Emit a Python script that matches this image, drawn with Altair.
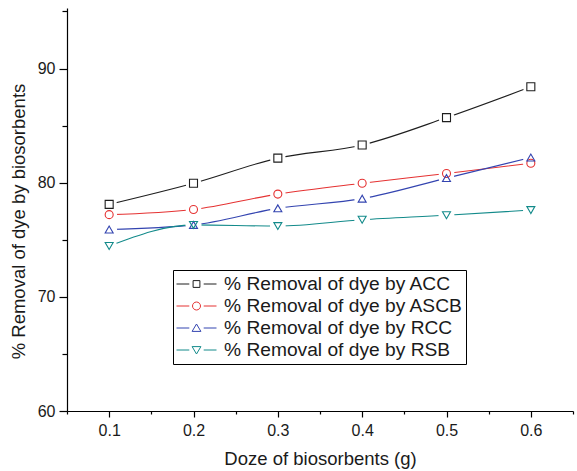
import altair as alt
import pandas as pd

doze = [0.1, 0.2, 0.3, 0.4, 0.5, 0.6]
acc = [78.1, 79.95, 82.15, 83.3, 85.7, 88.4]
ascb = [77.2, 77.65, 79.0, 79.95, 80.8, 81.7]
rcc = [75.9, 76.3, 77.75, 78.6, 80.4, 82.2]
rsb = [74.45, 76.3, 76.2, 76.75, 77.15, 77.6]

series_names = [
    "% Removal of dye by ACC",
    "% Removal of dye by ASCB",
    "% Removal of dye by RCC",
    "% Removal of dye by RSB",
]
colors = ["#1e1e1e", "#e53232", "#3344b0", "#128a8a"]
shapes = ["square", "circle", "triangle-up", "triangle-down"]

# legend symbols: line - marker - line
L = "M-1,0 L-0.36,0 M0.36,0 L1,0 "
legend_paths = [
    L + "M-0.17,-0.17 L0.17,-0.17 L0.17,0.17 L-0.17,0.17 Z",
    L + "M0.2,0 A0.2,0.2 0 1,1 -0.2,0 A0.2,0.2 0 1,1 0.2,0 Z",
    L + "M0,-0.2 L0.22,0.17 L-0.22,0.17 Z",
    L + "M0,0.2 L0.22,-0.17 L-0.22,-0.17 Z",
]

series_values = [acc, ascb, rcc, rsb]
rows = []
for name, vals in zip(series_names, series_values):
    for d, v in zip(doze, vals):
        rows.append({"doze": d, "value": v, "series": name})
df = pd.DataFrame(rows)

FONT = "Liberation Sans"
xscale = alt.Scale(domain=[0.05, 0.65], nice=False, zero=False)
yscale = alt.Scale(domain=[60, 95.3], nice=False, zero=False)
cscale = alt.Scale(domain=series_names, range=colors)

base = alt.Chart(df)

x_major = alt.Axis(values=doze, format=".1f", tickSize=6, labelPadding=5,
                   labelFontSize=16, title="Doze of biosorbents (g)",
                   titleFontSize=18.5, titlePadding=11, grid=False, orient="bottom")
y_major = alt.Axis(values=[60, 70, 80, 90], tickSize=8, labelPadding=4,
                   labelFontSize=16, title="% Removal of dye by biosorbents",
                   titleFontSize=18.5, titlePadding=9, grid=False, orient="left",
                   titleY=213)

lines = base.mark_line(interpolate="monotone", strokeWidth=1.1).encode(
    x=alt.X("doze:Q", scale=xscale, axis=x_major),
    y=alt.Y("value:Q", scale=yscale, axis=y_major),
    color=alt.Color("series:N", scale=cscale, legend=None),
    detail="series:N",
)

x_minor = alt.Axis(values=[0.05, 0.15, 0.25, 0.35, 0.45, 0.55, 0.65], orient="bottom",
                   labels=False, tickSize=3, domain=False, title=None, grid=False)
y_minor = alt.Axis(values=[65, 75, 85, 95], labels=False, tickSize=5, orient="left",
                   domain=False, title=None, grid=False)

halo = base.mark_point(shape="circle", filled=True, color="white", size=250, opacity=1).encode(
    x=alt.X("doze:Q", scale=xscale, axis=x_minor),
    y=alt.Y("value:Q", scale=yscale, axis=y_minor),
)

markers = base.mark_point(filled=False, size=64, strokeWidth=1.1, opacity=1).encode(
    x=alt.X("doze:Q", scale=xscale, axis=None),
    y=alt.Y("value:Q", scale=yscale, axis=None),
    color=alt.Color("series:N", scale=cscale, legend=None),
    shape=alt.Shape("series:N", scale=alt.Scale(domain=series_names, range=shapes), legend=None),
)

LEG_FS = 19.2
legend_cfg = alt.Legend(
    title=None, orient="none", legendX=106, legendY=262,
    strokeColor="black", fillColor="white", padding=3,
    symbolSize=1600, clipHeight=22, rowPadding=0,
    labelFontSize=LEG_FS, labelOffset=7, labelFont=FONT, labelColor="#1a1a1a",
    symbolStrokeWidth=1, symbolOpacity=1, labelLimit=400,
)

legend_layer = base.mark_point(filled=False, opacity=0).encode(
    x=alt.X("doze:Q", scale=xscale, axis=None),
    y=alt.Y("value:Q", scale=yscale, axis=None),
    color=alt.Color("series:N", scale=cscale, legend=legend_cfg),
    shape=alt.Shape("series:N", scale=alt.Scale(domain=series_names, range=legend_paths), legend=legend_cfg),
)

chart = alt.layer(lines, halo, markers, legend_layer).resolve_scale(
    color="independent", shape="independent"
).resolve_axis(x="independent", y="independent").properties(
    width=506, height=403,
    autosize=alt.AutoSizeParams(type="none"),
    padding={"left": 67, "top": 8, "right": 4, "bottom": 60},
).configure_view(stroke=None).configure_axis(
    domainColor="black", tickColor="black", domainWidth=1.2, tickWidth=1.2,
    labelColor="#1a1a1a", titleColor="#1a1a1a", labelFont=FONT, titleFont=FONT,
    titleFontWeight="normal",
).configure_legend(labelFontSize=LEG_FS, labelFont=FONT, labelLimit=400)

chart.save("out.html", embed_options={"renderer": "svg", "actions": False})
